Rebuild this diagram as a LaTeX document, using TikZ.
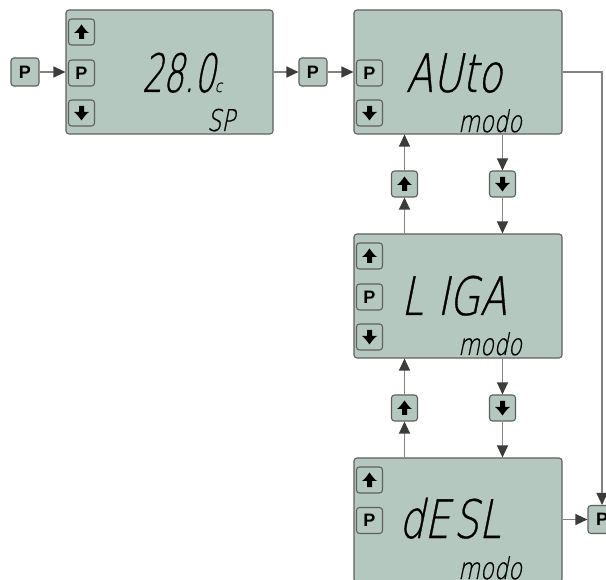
\documentclass[tikz,border=0pt]{standalone}
\usepackage{fontspec}
\setmainfont{Liberation Sans}
\newfontfamily\lcd{DejaVu Sans ExtraLight}[FakeSlant=0.2,FakeStretch=0.75,FakeBold=0.6]
\newfontfamily\lcdnum{DejaVu Sans ExtraLight}[FakeSlant=0.2,FakeStretch=0.62,FakeBold=0.6]
\usetikzlibrary{arrows.meta}
\definecolor{lcdfill}{RGB}{180,200,192}
\definecolor{boxline}{RGB}{95,95,95}
\definecolor{connline}{RGB}{130,130,130}
\definecolor{tipcol}{RGB}{60,60,60}
\tikzset{
  panel/.style={draw=boxline,line width=1.1pt,fill=lcdfill,rounded corners=3pt,minimum width=208pt,minimum height=124pt,inner sep=0pt},
  btn/.style={draw=boxline,line width=1.1pt,fill=lcdfill,rounded corners=3pt,minimum width=26pt,minimum height=26pt,inner sep=0pt,font=\fontsize{18}{18}\selectfont\bfseries},
  conn/.style={draw=connline,line width=1.2pt,-{Triangle[length=12pt,width=11pt,color=tipcol]}},
  glyph/.style={fill=black},
  bigtxt/.style={inner sep=0pt,anchor=base,text depth=0pt,font=\lcd\fontsize{53}{53}\selectfont},
  smalltxt/.style={inner sep=0pt,anchor=base,text depth=0pt,font=\lcd\fontsize{30}{30}\selectfont}
}
\newcommand\upglyph[1]{\fill[glyph] ([shift={(0,-7.5)}]#1.center) .. controls ++(2.5,3.5) and ++(-2.5,-1.5) .. ++(7.5,8.5) -- ++(-5,0) -- ++(0,6) -- ++(-5,0) -- ++(0,-6) -- ++(-5,0) .. controls ++(2.5,-1.5) and ++(-2.5,3.5) .. cycle;}
\newcommand\downglyph[1]{\fill[glyph] ([shift={(0,7.5)}]#1.center) .. controls ++(2.5,-3.5) and ++(-2.5,1.5) .. ++(7.5,-8.5) -- ++(-5,0) -- ++(0,-6) -- ++(-5,0) -- ++(0,6) -- ++(-5,0) .. controls ++(2.5,1.5) and ++(-2.5,-3.5) .. cycle;}
\begin{document}
\begin{tikzpicture}[x=1pt,y=-1pt]
\useasboundingbox (0,0) rectangle (606,580);
\clip (0,0) rectangle (606,580);
\fill[white] (0,0) rectangle (606,580);
% panels
\node[panel,minimum width=207pt] (p1) at (169.5,72) {};
\node[panel] (p2) at (458,72) {};
\node[panel] (p3) at (458,296) {};
\node[panel] (p4) at (458,520) {};
% external P buttons
\node[btn,minimum width=28pt,minimum height=28pt] (pin) at (25,72) {P};
\node[btn,minimum width=28pt,minimum height=28pt] (pmid) at (313,72) {P};
\node[btn,minimum width=28pt,minimum height=28pt] (pout) at (602,519.5) {P};
% panel 1 buttons
\node[btn] (p1u) at (81.5,32) {}; \upglyph{p1u}
\node[btn] (p1p) at (81.5,73) {P};
\node[btn] (p1d) at (81.5,113) {}; \downglyph{p1d}
% panel 2 buttons
\node[btn] (p2p) at (369.5,73) {P};
\node[btn] (p2d) at (369.5,113) {}; \downglyph{p2d}
% panel 3 buttons
\node[btn] (p3u) at (369.5,256) {}; \upglyph{p3u}
\node[btn] (p3p) at (369.5,297) {P};
\node[btn] (p3d) at (369.5,337) {}; \downglyph{p3d}
% panel 4 buttons
\node[btn] (p4u) at (369.5,480) {}; \upglyph{p4u}
\node[btn] (p4p) at (369.5,520.5) {P};
% navigation buttons between panels
\node[btn] (u23) at (404.5,184) {}; \upglyph{u23}
\node[btn] (d23) at (502.5,184) {}; \downglyph{d23}
\node[btn] (u34) at (404.5,408) {}; \upglyph{u34}
\node[btn] (d34) at (502.5,408) {}; \downglyph{d34}
% texts
\node[bigtxt,font=\lcdnum\fontsize{53}{53}\selectfont] (t1) at (182,92) {28.0{\lcd\fontsize{17}{17}\selectfont c}};
\node[smalltxt] (s1) at (221,131) {SP};
\node[bigtxt] (t2) at (454,92) {AUto};
\node[smalltxt] (s2) at (490,132) {modo};
\node[bigtxt] (t3) at (454,315) {L\hspace{14pt}IGA};
\node[smalltxt] (s3) at (490,355) {modo};
\node[bigtxt] (t4) at (450,538) {dE\hspace{4pt}SL};
\node[smalltxt] (s4) at (490,579) {modo};
% connectors
\draw[conn] (pin.east) -- (pin.east -| p1.west);
\draw[conn] (p1.east |- pmid) -- (pmid.west);
\draw[conn] (pmid.east) -- (pmid.east -| p2.west);
\draw[conn] (p2.east) -- (p2.east -| pout) -- (pout.north);
\draw[conn] (p3.north -| u23) -- (u23.south);
\draw[conn] (u23.north) -- (u23.north |- p2.south);
\draw[conn] (p2.south -| d23) -- (d23.north);
\draw[conn] (d23.south) -- (d23.south |- p3.north);
\draw[conn] (p4.north -| u34) -- (u34.south);
\draw[conn] (u34.north) -- (u34.north |- p3.south);
\draw[conn] (p3.south -| d34) -- (d34.north);
\draw[conn] (d34.south) -- (d34.south |- p4.north);
\draw[conn] (p4.east |- pout) -- (pout.west);
\end{tikzpicture}
\end{document}
